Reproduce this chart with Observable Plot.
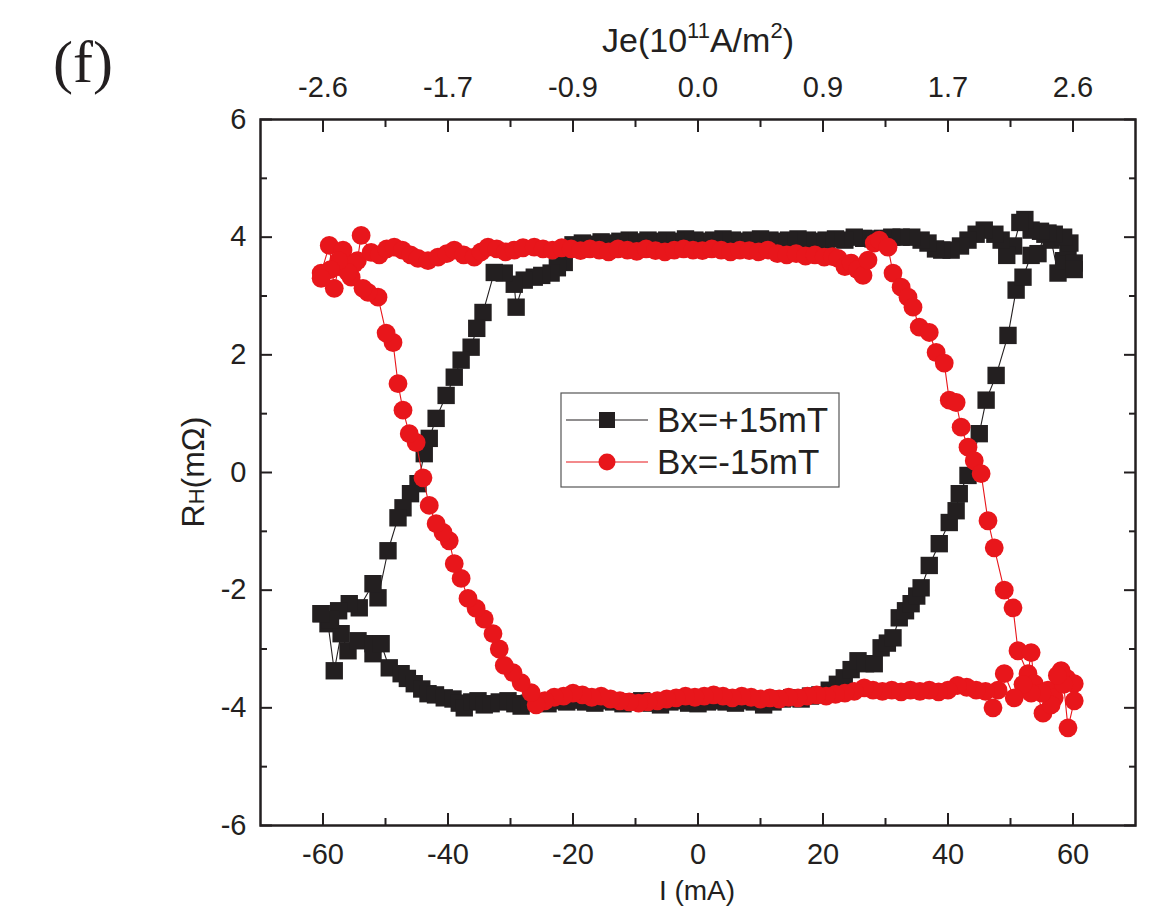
<!DOCTYPE html>
<html><head><meta charset="utf-8">
<script src="https://cdn.jsdelivr.net/npm/d3@7"></script>
<script src="https://cdn.jsdelivr.net/npm/@observablehq/plot@0.6"></script>
<style>body{margin:0;background:#fff;overflow:hidden;}</style>
</head><body><div id="chart"></div>
<script>
// ---- data: Bx=+15mT (black squares), sweep order ----
const blackI = [-60.3,-59.2,-58.2,-57.1,-56,-54.4,-52,-52,-50.7,-49.4,-47.5,-46.5,-45.4,-44.2,-43.2,-42,-40.6,-39.2,-38.2,-37.4,-36.2,-35.2,-34.2,-33.1,-31.8,-30.4,-29.3,-28.3,-27,-25.5,-24,-22.5,-21,-19.5,-18,-16.5,-15,-13.5,-12,-10.5,-9,-7.5,-6,-4.5,-3,-1.5,0,1.5,3,4.5,6,7.5,9,10.5,12,13.5,15,16.5,18,19.5,21,22.3,23.4,24.5,25.6,26.8,28.2,29.3,30.3,31.2,32.2,33.2,34.1,35,35.7,37,38.6,40.2,41.3,41.8,43.2,45,46.1,47.7,49.6,50.9,52,53.3,54.4,55.5,56.5,57.6,58.5,59.2,60.2,
  60.2,59.5,58.5,57,56,54.8,53.3,52.3,51.5,50.5,49.4,48.5,47.5,45.8,44.5,43.2,42,40.5,39,38,36.8,35.7,34.2,32.5,31,29.5,28,26.5,25,23.5,22,20.5,19,17.5,16,14.5,13,11.5,10,8.5,7,5.5,4,2.5,1,-0.5,-2,-3.5,-5,-6.5,-8,-9.5,-11,-12.5,-14,-15.5,-17,-18.5,-20,-21.4,-22.5,-23.5,-25,-26.2,-27.8,-29.1,-29.4,-31,-32.6,-34.4,-35.4,-36.3,-37.9,-39,-40.3,-41.9,-43,-43.8,-44.8,-46,-47.2,-48,-49.6,-51.2,-52,-54.2,-55.8,-57.5,-58.8,-60.3];
const blackR = [-2.40,-2.57,-3.37,-2.74,-3.03,-2.86,-2.91,-3.08,-2.91,-3.32,-3.42,-3.5,-3.59,-3.68,-3.76,-3.78,-3.83,-3.85,-3.92,-4.0,-3.9,-3.88,-3.95,-3.93,-3.9,-3.88,-3.93,-3.97,-3.92,-3.9,-3.93,-3.88,-3.9,-3.87,-3.9,-3.92,-3.88,-3.9,-3.93,-3.9,-3.88,-3.92,-3.95,-3.9,-3.88,-3.92,-3.93,-3.9,-3.88,-3.9,-3.92,-3.88,-3.9,-3.95,-3.9,-3.85,-3.83,-3.85,-3.8,-3.78,-3.7,-3.6,-3.49,-3.35,-3.2,-3.25,-3.25,-2.98,-2.9,-2.81,-2.47,-2.35,-2.23,-2.1,-1.96,-1.58,-1.21,-0.85,-0.65,-0.36,-0.05,0.66,1.23,1.65,2.33,3.10,3.32,3.69,3.72,4.05,3.95,3.39,3.6,3.83,3.56,
  3.45,3.9,4.0,4.05,4.07,4.1,4.12,4.3,4.25,3.85,3.69,3.95,4.05,4.12,4.05,3.95,3.85,3.78,3.78,3.8,3.9,3.95,4.0,4.0,4.0,3.98,3.97,3.98,4.0,3.95,3.97,3.95,3.93,3.95,3.97,3.95,3.93,3.95,3.97,3.95,3.93,3.95,3.97,3.95,3.93,3.95,3.97,3.93,3.95,3.93,3.95,3.92,3.95,3.93,3.9,3.92,3.88,3.9,3.87,3.57,3.48,3.39,3.35,3.32,3.27,2.81,3.2,3.39,3.40,2.72,2.45,2.13,1.91,1.62,1.31,0.92,0.58,0.32,-0.19,-0.36,-0.6,-0.77,-1.33,-2.13,-1.89,-2.30,-2.23,-2.35,-2.5,-2.40];
// ---- data: Bx=-15mT (red circles), sweep order ----
const redI = [-60.3,-59,-58.2,-57.5,-56.8,-55.5,-54.5,-53.9,-52.3,-51,-49.8,-48.6,-47.3,-46,-44.8,-43.2,-41.6,-40.2,-39,-37.5,-35.8,-34.7,-33.6,-32.2,-30.8,-29.4,-28,-26.2,-24.8,-23.3,-21.8,-20.3,-18.8,-17.3,-15.8,-14.3,-12.8,-11.3,-9.8,-8.3,-6.8,-5.3,-3.8,-2.3,-0.8,0.7,2.2,3.7,5.2,6.7,8.2,9.7,11.2,12.7,14.2,15.7,17.2,18.7,20.2,21.5,22.4,23.5,24.5,25.5,26.4,27.2,28.2,29,30.4,31.2,32.5,33.6,34.4,35.4,37,38.1,39.4,40.2,41.3,42.1,43.2,44.2,45.3,46.4,47.4,49,50.4,51.2,52.8,53.3,53.8,55.2,56,57,58.1,59,60.2,
  60.2,59.2,58.5,57.5,56.5,55,53.3,52,50.6,49,48,47.2,46,44.5,43,41.5,40,38.5,37,35.5,34,32.5,31,29.5,28,26.6,25,23.5,22,20.5,19,17.5,16,14.5,13,11.5,10,8.5,7,5.5,4,2.5,1,-0.5,-2,-3.5,-5,-6.5,-8,-9.5,-11,-12.5,-14,-15.5,-17,-18.5,-20,-21.5,-23,-24.5,-25.9,-26.7,-28.3,-29.6,-31,-31.8,-32.8,-34.2,-35.5,-36.8,-37.9,-39,-39.8,-40.8,-41.9,-43,-44,-45.1,-46.2,-47.2,-48,-48.8,-49.9,-51.2,-52.8,-53.6,-55,-56,-57.5,-58.8,-60.3];
const redR = [3.39,3.86,3.13,3.5,3.78,3.32,3.6,4.03,3.74,3.7,3.8,3.83,3.78,3.7,3.64,3.6,3.66,3.72,3.78,3.7,3.66,3.75,3.83,3.8,3.75,3.78,3.82,3.83,3.8,3.78,3.82,3.8,3.77,3.8,3.78,3.75,3.8,3.78,3.76,3.8,3.77,3.75,3.78,3.8,3.78,3.77,3.8,3.78,3.75,3.78,3.77,3.75,3.78,3.72,3.7,3.72,3.68,3.7,3.66,3.67,3.64,3.5,3.56,3.45,3.35,3.61,3.9,3.95,3.83,3.39,3.15,2.98,2.81,2.47,2.38,2.04,1.86,1.23,1.19,0.77,0.43,0.20,-0.02,-0.82,-1.28,-2.0,-2.30,-3.03,-3.42,-3.06,-3.59,-4.09,-3.7,-3.83,-3.37,-3.5,-3.59,
  -3.88,-4.34,-3.6,-3.45,-3.95,-3.75,-3.75,-3.6,-3.83,-3.42,-3.7,-4.0,-3.72,-3.7,-3.65,-3.62,-3.7,-3.73,-3.7,-3.72,-3.7,-3.73,-3.7,-3.72,-3.7,-3.66,-3.72,-3.75,-3.77,-3.8,-3.78,-3.8,-3.83,-3.82,-3.85,-3.83,-3.85,-3.82,-3.8,-3.83,-3.8,-3.78,-3.8,-3.82,-3.8,-3.83,-3.85,-3.88,-3.9,-3.92,-3.9,-3.88,-3.85,-3.8,-3.82,-3.78,-3.75,-3.8,-3.82,-3.88,-3.95,-3.74,-3.57,-3.40,-3.28,-3.0,-2.74,-2.49,-2.31,-2.14,-1.80,-1.55,-1.16,-1.02,-0.87,-0.56,-0.09,0.51,0.66,1.06,1.51,2.21,2.37,2.98,3.06,3.13,3.55,3.4,3.6,3.45,3.3];
// ---- axes ----
const xTicks = [-60,-40,-20,0,20,40,60];
const xMinor = [-50,-30,-10,10,30,50];
const yTicks = [-6,-4,-2,0,2,4,6];
const yMinor = [-5,-3,-1,1,3,5];
const jeLabels = ["-2.6","-1.7","-0.9","0.0","0.9","1.7","2.6"];
const seriesNames = ["Bx=+15mT","Bx=-15mT"];

const black = blackI.map((v,i)=>({I:v,R:blackR[i]}));
const red = redI.map((v,i)=>({I:v,R:redR[i]}));
const ink = "#231f20", redC = "#e8161b";
const font = "'Liberation Sans', Arial, sans-serif";
const fmt = d => String(d);

const plot = Plot.plot({
  width:1170, height:908,
  marginLeft:260, marginRight:35, marginTop:119, marginBottom:83,
  style:{fontFamily:font, fontSize:"29px", color:ink, background:"#fff", overflow:"visible"},
  x:{domain:[-70,70]}, y:{domain:[-6,6]},
  marks:[
    Plot.axisX(xTicks,{anchor:"bottom", tickSize:-12, text:null, strokeWidth:2, label:null}),
    Plot.axisX(xMinor,{anchor:"bottom", tickSize:-7, text:null, strokeWidth:2, label:null}),
    Plot.axisX(xTicks,{anchor:"bottom", tickSize:0, tickPadding:18, label:null, tickFormat:fmt}),
    Plot.axisX(xTicks,{anchor:"top", tickSize:-12, text:null, strokeWidth:2, label:null}),
    Plot.axisX(xMinor,{anchor:"top", tickSize:-7, text:null, strokeWidth:2, label:null}),
    Plot.axisX(xTicks,{anchor:"top", tickSize:0, tickPadding:23, label:null, tickFormat:d=>jeLabels[xTicks.indexOf(d)]}),
    Plot.axisY(yTicks,{anchor:"left", tickSize:-12, text:null, strokeWidth:2, label:null}),
    Plot.axisY(yMinor,{anchor:"left", tickSize:-7, text:null, strokeWidth:2, label:null}),
    Plot.axisY(yTicks,{anchor:"left", tickSize:0, tickPadding:14, label:null, tickFormat:fmt}),
    Plot.axisY(yTicks,{anchor:"right", tickSize:-12, text:null, strokeWidth:2, label:null}),
    Plot.axisY(yMinor,{anchor:"right", tickSize:-7, text:null, strokeWidth:2, label:null}),
    Plot.frame({stroke:ink, strokeWidth:2.5}),
    Plot.line(black,{x:"I", y:"R", stroke:ink, strokeWidth:1.1}),
    Plot.dot(black,{x:"I", y:"R", symbol:"square", r:9.8, fill:ink, stroke:null}),
    Plot.line(red,{x:"I", y:"R", stroke:redC, strokeWidth:1.1}),
    Plot.dot(red,{x:"I", y:"R", symbol:"circle", r:9.4, fill:redC, stroke:null})
  ]
});
document.getElementById("chart").appendChild(plot);

const svg = d3.select(plot);
// panel letter
svg.append("text").attr("x",53).attr("y",82).attr("text-anchor","start")
  .attr("font-family","'Liberation Serif', 'Times New Roman', serif")
  .attr("font-size",60).attr("fill",ink).text("(f)");
// top axis label
const tl = svg.append("text").attr("x",698).attr("y",52).attr("text-anchor","middle")
  .attr("font-family",font).attr("font-size",34).attr("fill",ink);
tl.append("tspan").text("Je(10");
tl.append("tspan").attr("font-size",22).attr("dy",-14).text("11");
tl.append("tspan").attr("dy",14).text("A/m");
tl.append("tspan").attr("font-size",22).attr("dy",-14).text("2");
tl.append("tspan").attr("dy",14).text(")");
// bottom axis label
svg.append("text").attr("x",697).attr("y",900).attr("text-anchor","middle")
  .attr("font-family",font).attr("font-size",28).attr("fill",ink).text("I (mA)");
// y axis label
const yl = svg.append("text").attr("transform","translate(204,472) rotate(-90)").attr("text-anchor","middle")
  .attr("font-family",font).attr("font-size",32).attr("fill",ink);
yl.append("tspan").text("R");
yl.append("tspan").attr("font-size",22).text("H");
yl.append("tspan").text("(mΩ)");
// legend
const lg = svg.append("g");
lg.append("rect").attr("x",561).attr("y",393).attr("width",278).attr("height",94)
  .attr("fill","#fff").attr("stroke","#555").attr("stroke-width",1.2);
const rows = [{y:420, c:ink, sym:"square"},{y:462, c:redC, sym:"circle"}];
rows.forEach((r,i)=>{
  lg.append("line").attr("x1",566).attr("x2",648).attr("y1",r.y).attr("y2",r.y).attr("stroke",r.c).attr("stroke-width",1.2);
  if (r.sym==="square") lg.append("rect").attr("x",599).attr("y",r.y-8).attr("width",16).attr("height",16).attr("fill",r.c);
  else lg.append("circle").attr("cx",607).attr("cy",r.y).attr("r",8.5).attr("fill",r.c);
  lg.append("text").attr("x",657).attr("y",r.y+12).attr("text-anchor","start")
    .attr("font-family",font).attr("font-size",35).attr("fill",ink).text(seriesNames[i]);
});
</script></body></html>
